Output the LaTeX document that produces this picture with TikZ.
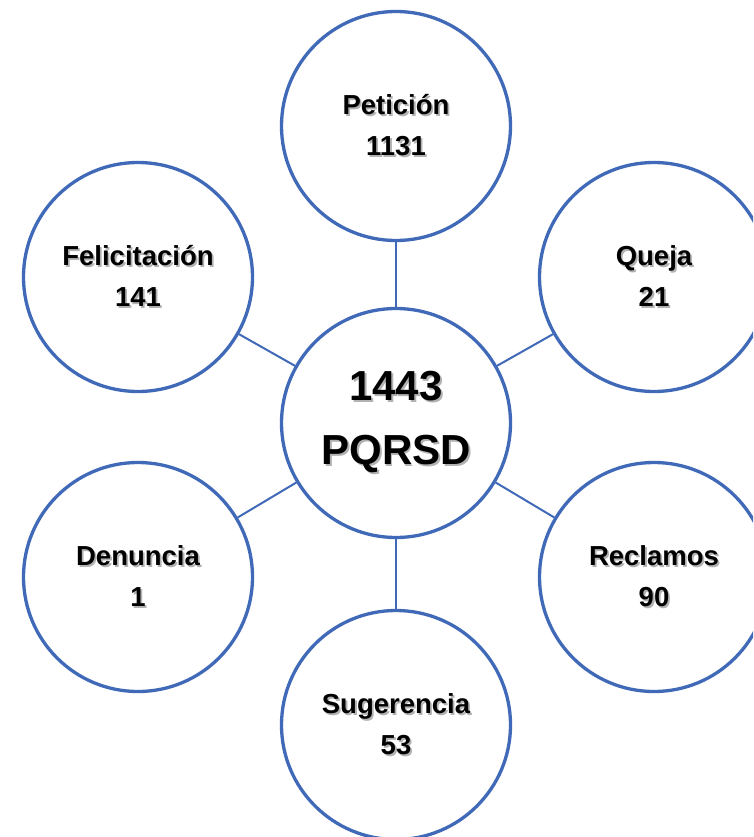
\documentclass[tikz,border=0pt]{standalone}
\usepackage{fontspec}
\setmainfont{Liberation Sans}
\definecolor{ringblue}{RGB}{64,106,184}
\newcommand{\shtext}[1]{\leavevmode\rlap{\kern1.8pt\raisebox{-1.8pt}{\textcolor{black!30}{#1}}}#1}
\begin{document}
\begin{tikzpicture}[x=1pt,y=-1pt,
  bubble/.style={circle,draw=ringblue,line width=3.3pt,fill=white,minimum size=229pt,inner sep=0pt,
    align=center,font=\fontsize{27.5}{41}\selectfont\bfseries},
  hub/.style={bubble,font=\fontsize{42}{64}\selectfont\bfseries},
  link/.style={draw=ringblue,line width=2pt}]
\clip (0,0) rectangle (753,837);
\fill[white] (0,0) rectangle (753,837);
\node[hub] (c) at (396,423) {\shtext{1443}\\\shtext{PQRSD}};
\node[bubble] (p) at (396,126) {\shtext{Petición}\\\shtext{1131}};
\node[bubble] (f) at (138,277) {\shtext{Felicitación}\\\shtext{141}};
\node[bubble] (q) at (654,277) {\shtext{Queja}\\\shtext{21}};
\node[bubble] (d) at (138,577) {\shtext{Denuncia}\\\shtext{1}};
\node[bubble] (r) at (654,577) {\shtext{Reclamos}\\\shtext{90}};
\node[bubble] (s) at (396,725) {\shtext{Sugerencia}\\\shtext{53}};
\foreach \n in {p,f,q,d,r,s} \draw[link] (c) -- (\n);
\end{tikzpicture}
\end{document}
